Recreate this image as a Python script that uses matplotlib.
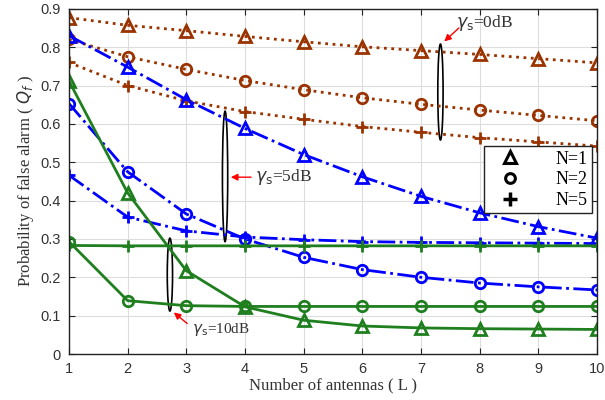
import matplotlib
matplotlib.use("Agg")
import matplotlib.pyplot as plt
from matplotlib.patches import Ellipse

L = [1, 2, 3, 4, 5, 6, 7, 8, 9, 10]

# gamma_s = 0 dB
p0_n1 = [0.877, 0.857, 0.843, 0.828, 0.814, 0.801, 0.791, 0.781, 0.770, 0.759]
p0_n2 = [0.820, 0.775, 0.742, 0.713, 0.689, 0.668, 0.651, 0.636, 0.622, 0.608]
p0_n5 = [0.760, 0.700, 0.660, 0.632, 0.612, 0.593, 0.578, 0.564, 0.553, 0.542]
# gamma_s = 5 dB
p5_n1 = [0.830, 0.748, 0.663, 0.588, 0.520, 0.462, 0.411, 0.368, 0.332, 0.302]
p5_n2 = [0.653, 0.475, 0.365, 0.300, 0.252, 0.220, 0.200, 0.185, 0.175, 0.167]
p5_n5 = [0.466, 0.357, 0.321, 0.305, 0.298, 0.293, 0.291, 0.290, 0.289, 0.288]
# gamma_s = 10 dB
p10_n1 = [0.712, 0.420, 0.217, 0.123, 0.088, 0.073, 0.068, 0.066, 0.065, 0.064]
p10_n2 = [0.293, 0.139, 0.126, 0.124, 0.124, 0.124, 0.124, 0.124, 0.124, 0.124]
p10_n5 = [0.283, 0.282, 0.282, 0.282, 0.282, 0.282, 0.282, 0.282, 0.282, 0.282]

legend_labels = ["N=1", "N=2", "N=5"]

brown = "#9a3300"
blue = "#0000ff"
green = "#1f7f1f"

fig = plt.figure(figsize=(6.05, 4.0), dpi=100)
ax = fig.add_axes([0.114, 0.115, 0.873, 0.863])

serif = ["Liberation Serif", "DejaVu Serif"]
sans = ["Liberation Sans", "DejaVu Sans"]

def draw(y, color, ls, marker):
    ax.plot(L, y, color=color, linestyle=ls, linewidth=2, marker=marker,
            markersize=8 if marker != "o" else 7.5, markerfacecolor="none",
            markeredgecolor=color, markeredgewidth=2)

draw(p0_n1, brown, ":", "^")
draw(p0_n2, brown, ":", "o")
draw(p0_n5, brown, ":", "+")
draw(p5_n1, blue, "-.", "^")
draw(p5_n2, blue, "-.", "o")
draw(p5_n5, blue, "-.", "+")
draw(p10_n1, green, "-", "^")
draw(p10_n2, green, "-", "o")
draw(p10_n5, green, "-", "+")

ax.set_xlim(1, 10)
ax.set_ylim(0, 0.9)
ax.set_xticks(L)
ax.set_yticks([0, 0.1, 0.2, 0.3, 0.4, 0.5, 0.6, 0.7, 0.8, 0.9])
ax.set_yticklabels(["0", "0.1", "0.2", "0.3", "0.4", "0.5", "0.6", "0.7", "0.8", "0.9"])
ax.grid(True, color="#dddddd", linewidth=0.8)
ax.set_axisbelow(True)
ax.tick_params(direction="in", length=4, labelsize=10.5, top=True, right=True,
               colors="#222222", labelcolor="#333333", pad=6)
for lab in ax.get_xticklabels() + ax.get_yticklabels():
    lab.set_fontfamily(sans)
for s in ax.spines.values():
    s.set_color("#222222")
    s.set_linewidth(1.0)

ax.set_xlabel("Number of antennas ( L )", fontfamily=serif, fontsize=12, color="#333333", labelpad=1)
ax.set_ylabel(r"Probability of false alarm ( $Q_f$ )", fontfamily=serif, fontsize=12, color="#333333", labelpad=3)

# legend proxies
h1, = ax.plot([], [], linestyle="none", marker="^", markersize=8, markerfacecolor="none",
              markeredgecolor="black", markeredgewidth=2.2)
h2, = ax.plot([], [], linestyle="none", marker="o", markersize=7, markerfacecolor="none",
              markeredgecolor="black", markeredgewidth=2.2)
h3, = ax.plot([], [], linestyle="none", marker="+", markersize=10, markerfacecolor="none",
              markeredgecolor="black", markeredgewidth=2.5)
leg = ax.legend([h1, h2, h3], legend_labels, loc="upper right",
                bbox_to_anchor=(0.99, 0.602), borderaxespad=0.0,
                prop={"family": serif, "size": 13},
                fancybox=False, edgecolor="#222222", framealpha=1, handletextpad=1.3,
                borderpad=0.25, labelspacing=0.2, handlelength=2.4)
leg.get_frame().set_linewidth(1.0)

# ellipses and annotations
ax.add_patch(Ellipse((7.33, 0.683), 0.09, 0.25, fill=False, edgecolor="black", linewidth=1.2))
ax.add_patch(Ellipse((3.66, 0.463), 0.09, 0.34, fill=False, edgecolor="black", linewidth=1.2))
ax.add_patch(Ellipse((2.72, 0.207), 0.09, 0.19, fill=False, edgecolor="black", linewidth=1.2))

ax.annotate("", xy=(7.36, 0.81), xytext=(7.68, 0.855),
            arrowprops=dict(arrowstyle="-|>", color="red", lw=1, mutation_scale=10))
ax.text(7.6, 0.862, r"$\gamma_{\rm s}$=0dB", fontfamily=serif, fontsize=12.5, color="#333333",
        ha="left", va="center")

ax.annotate("", xy=(3.71, 0.461), xytext=(4.15, 0.461),
            arrowprops=dict(arrowstyle="-|>", color="red", lw=1, mutation_scale=10))
ax.text(4.17, 0.461, r"$\gamma_{\rm s}$=5dB", fontfamily=serif, fontsize=12.5, color="#333333",
        ha="left", va="center")

ax.annotate("", xy=(2.75, 0.113), xytext=(3.05, 0.075),
            arrowprops=dict(arrowstyle="-|>", color="red", lw=1, mutation_scale=10))
ax.text(3.1, 0.063, r"$\gamma_{\rm s}$=10dB", fontfamily=serif, fontsize=11, color="#333333",
        ha="left", va="center")

fig.savefig("out.png", dpi=100)
